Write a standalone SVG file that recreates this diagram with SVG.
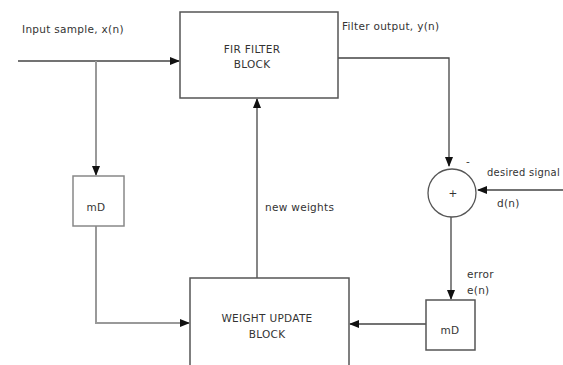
<svg xmlns="http://www.w3.org/2000/svg" width="563" height="365" viewBox="0 0 563 365">
<style>
text{font-family:"DejaVu Sans",Verdana,sans-serif;font-size:10.5px;fill:#333;letter-spacing:0.3px}
.c{text-anchor:middle}
.box{fill:#fff;stroke:#555;stroke-width:1.5}
.lbox{fill:#fff;stroke:#888;stroke-width:1.5}
.ln{fill:none;stroke:#444;stroke-width:1.3}
.lt{fill:none;stroke:#999;stroke-width:2}
</style>
<defs>
<marker id="ah" markerWidth="10" markerHeight="8" refX="9" refY="4" orient="auto" markerUnits="userSpaceOnUse">
<path d="M0,0 L10,4 L0,8 Z" fill="#111"/>
</marker>
</defs>
<rect width="563" height="365" fill="#fff"/>
<g id="connectors">
<line class="ln" x1="18" y1="61" x2="179" y2="61" marker-end="url(#ah)"/>
<line class="lt" x1="96" y1="61" x2="96" y2="175" marker-end="url(#ah)"/>
<polyline class="lt" points="96,226 96,323 189,323" marker-end="url(#ah)"/>
<line class="ln" x1="257" y1="278" x2="257" y2="99" marker-end="url(#ah)"/>
<polyline class="ln" points="338,58 449,58 449,166" marker-end="url(#ah)"/>
<line class="ln" x1="563" y1="190" x2="478" y2="190" marker-end="url(#ah)"/>
<line class="ln" x1="451" y1="217" x2="451" y2="299" marker-end="url(#ah)"/>
<line class="ln" x1="426" y1="324" x2="350" y2="324" marker-end="url(#ah)"/>
</g>
<g id="fir">
<rect class="box" x="180" y="12" width="158" height="86"/>
<text class="c" x="252" y="53">FIR FILTER</text>
<text class="c" x="252" y="68">BLOCK</text>
</g>
<g id="md1">
<rect class="lbox" x="73" y="176" width="51" height="50"/>
<text class="c" x="96" y="211">mD</text>
</g>
<g id="wu">
<rect class="box" x="190" y="278" width="159" height="100"/>
<text class="c" x="267" y="322">WEIGHT UPDATE</text>
<text class="c" x="267" y="338">BLOCK</text>
</g>
<g id="sum">
<circle cx="452" cy="193" r="24" fill="#fff" stroke="#555" stroke-width="1.3"/>
<text class="c" x="453" y="197">+</text>
<text class="c" x="468" y="165">-</text>
</g>
<g id="md2">
<rect class="box" x="426" y="300" width="49" height="50"/>
<text class="c" x="450" y="334">mD</text>
</g>
<g id="labels">
<text x="22" y="33">Input sample, x(n)</text>
<text x="342" y="30">Filter output, y(n)</text>
<text x="265" y="211">new weights</text>
<text x="487" y="176" textLength="73" lengthAdjust="spacingAndGlyphs">desired signal</text>
<text x="497" y="207">d(n)</text>
<text x="467" y="278">error</text>
<text x="467" y="294">e(n)</text>
</g>
</svg>
